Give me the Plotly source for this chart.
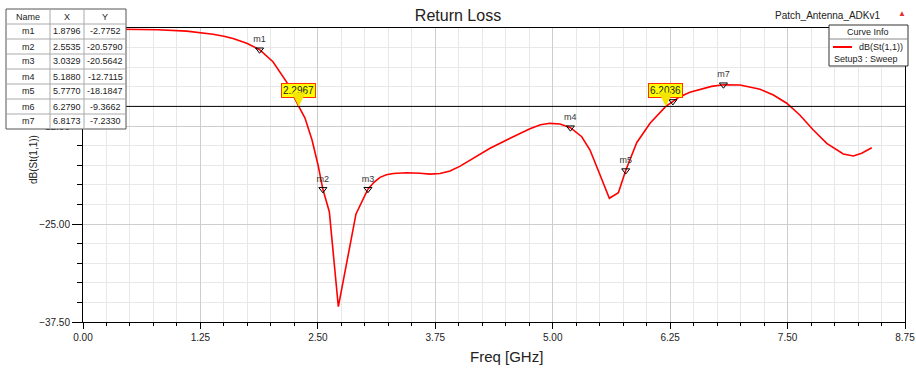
import plotly.graph_objects as go

# ---------------- data ----------------
freq = [0.0, 0.465, 0.80, 1.104, 1.25, 1.384, 1.50, 1.597, 1.743, 1.8796, 2.022, 2.168, 2.2967,
        2.363, 2.438, 2.502, 2.5535, 2.622, 2.718, 2.906, 3.0329, 3.10, 3.162, 3.23, 3.303,
        3.446, 3.587, 3.694, 3.80, 3.907, 4.01, 4.12, 4.333, 4.546, 4.758, 4.87, 4.971, 5.078,
        5.188, 5.309, 5.397, 5.504, 5.603, 5.699, 5.777, 5.894, 6.036, 6.2036,
        6.279, 6.355, 6.46, 6.568, 6.69, 6.8173, 6.994, 7.207, 7.349, 7.491, 7.63, 7.774,
        7.917, 8.093, 8.2, 8.289, 8.396]
s11 = [-0.10, -0.13, -0.22, -0.40, -0.58, -0.80, -1.05, -1.35, -1.95, -2.7752, -4.3, -6.9, -10.0,
       -11.48, -14.29, -17.47, -20.579, -23.43, -35.55, -23.72, -20.5642, -19.65, -19.05, -18.72, -18.55,
       -18.46, -18.53, -18.64, -18.55, -18.24, -17.65, -16.84, -15.34, -14.07, -12.85, -12.35, -12.16, -12.24,
       -12.7115, -13.87, -15.56, -18.75, -21.72, -21.01, -18.1847, -14.63, -12.16, -10.0,
       -9.3662, -8.76, -8.2, -7.82, -7.45, -7.233, -7.27, -7.82, -8.55, -9.6, -11.1, -13.01,
       -14.71, -16.07, -16.33, -15.98, -15.27]

marker_names = ["m1", "m2", "m3", "m4", "m5", "m6", "m7"]
marker_x = [1.8796, 2.5535, 3.0329, 5.1880, 5.7770, 6.2790, 6.8173]
marker_y = [-2.7752, -20.5790, -20.5642, -12.7115, -18.1847, -9.3662, -7.2330]

threshold = -10.0
crossing_x = [2.2967, 6.2036]

x_ticks = [0.0, 1.25, 2.5, 3.75, 5.0, 6.25, 7.5, 8.75]
y_ticks = [-37.5, -25.0, -12.5, 0.0]

FONT = "Arial, 'Liberation Sans', sans-serif"

# pixel -> paper helpers (layout only)
L, R, T, B = 83, 905, 28, 322
def pxx(p):
    return (p - L) / (R - L)
def pxy(p):
    return (B - p) / (B - T)

def note(px, py, text, size=9, xanchor="center", angle=0, color="#222"):
    fig.add_annotation(x=pxx(px), y=pxy(py), xref="paper", yref="paper",
                       text=text, showarrow=False, xanchor=xanchor, yanchor="middle",
                       textangle=angle,
                       font=dict(family=FONT, size=size, color=color))

fig = go.Figure()

fig.add_trace(go.Scatter(x=freq, y=s11, mode="lines",
                         line=dict(color="#ff0000", width=1.6),
                         showlegend=False, hoverinfo="skip"))

fig.add_trace(go.Scatter(x=marker_x, y=marker_y, mode="markers+text",
                         text=marker_names, textposition="top center",
                         textfont=dict(family=FONT, size=9, color="#333"),
                         marker=dict(symbol="triangle-down-open", size=7,
                                     color="black", line=dict(width=1, color="black")),
                         showlegend=False, hoverinfo="skip"))

# -10 dB line
fig.add_shape(type="line", xref="paper", yref="y", x0=0, x1=1,
              y0=threshold, y1=threshold, line=dict(color="black", width=1))

# crossing markers
for cx in crossing_x:
    fig.add_annotation(x=cx, y=threshold, xref="x", yref="y",
                       text=f"{cx:.4f}", showarrow=True, ax=0, ay=-16,
                       arrowhead=2, arrowsize=2.8, arrowwidth=1,
                       arrowcolor="#f5e600", standoff=0,
                       bgcolor="#ffff00", bordercolor="#ff3300", borderwidth=1,
                       borderpad=1,
                       font=dict(family=FONT, size=10, color="#222"))

# ---------------- marker table ----------------
col_edges = [6, 50, 84, 126]
row_top, row_h = 9, 15
headers = ["Name", "X", "Y"]
rows = [headers] + [[n, f"{x:.4f}", f"{y:.4f}"] for n, x, y in zip(marker_names, marker_x, marker_y)]
n_rows = len(rows)
tb_bottom = row_top + row_h * n_rows
fig.add_shape(type="rect", xref="paper", yref="paper",
              x0=pxx(col_edges[0]), x1=pxx(col_edges[-1]),
              y0=pxy(tb_bottom), y1=pxy(row_top),
              fillcolor="white", line=dict(color="#555", width=1), layer="above")
for i in range(1, n_rows):
    yy = row_top + i * row_h
    fig.add_shape(type="line", xref="paper", yref="paper",
                  x0=pxx(col_edges[0]), x1=pxx(col_edges[-1]),
                  y0=pxy(yy), y1=pxy(yy), line=dict(color="#aaa", width=1), layer="above")
for c in col_edges[1:-1]:
    fig.add_shape(type="line", xref="paper", yref="paper",
                  x0=pxx(c), x1=pxx(c), y0=pxy(tb_bottom), y1=pxy(row_top),
                  line=dict(color="#aaa", width=1), layer="above")
for i, row in enumerate(rows):
    yc = row_top + i * row_h + row_h / 2
    for j, txt in enumerate(row):
        xc = (col_edges[j] + col_edges[j + 1]) / 2
        note(xc, yc, txt, size=9)

# ---------------- curve info box ----------------
lb_l, lb_r, lb_t, lb_b, lb_sep = 829, 908, 25, 66, 39
fig.add_shape(type="rect", xref="paper", yref="paper",
              x0=pxx(lb_l), x1=pxx(lb_r), y0=pxy(lb_b), y1=pxy(lb_t),
              fillcolor="white", line=dict(color="#333", width=1), layer="above")
fig.add_shape(type="line", xref="paper", yref="paper",
              x0=pxx(lb_l), x1=pxx(lb_r), y0=pxy(lb_sep), y1=pxy(lb_sep),
              line=dict(color="#888", width=1), layer="above")
fig.add_shape(type="line", xref="paper", yref="paper",
              x0=pxx(833), x1=pxx(852), y0=pxy(47), y1=pxy(47),
              line=dict(color="#ff0000", width=2), layer="above")
note(868, 32, "Curve Info", size=9)
note(905, 47, "dB(St(1,1))", size=9, xanchor="right")
note(832, 59, "Setup3 : Sweep", size=9, xanchor="left")

# ---------------- header / axis texts ----------------
note(883, 15, "Patch_Antenna_ADKv1", size=10, xanchor="right")
note(902, 14, "▲", size=8, color="#e03030")
note(33, 160, "dB(St(1,1))", size=10, angle=-90)
note(506, 356, "Freq [GHz]", size=15)

fig.update_layout(
    width=916, height=368,
    margin=dict(l=L, r=916 - R, t=T, b=368 - B, autoexpand=False),
    paper_bgcolor="white", plot_bgcolor="white",
    title=dict(text="Return Loss", x=0.5, xanchor="center",
               y=1 - 15 / 368, yanchor="middle",
               font=dict(family=FONT, size=16, color="#222")),
    xaxis=dict(range=[0, 8.75], tickvals=x_ticks, tickformat=".2f",
               showgrid=True, gridcolor="#cdcdcd", gridwidth=1,
               ticks="outside", ticklen=6, tickcolor="black",
               showline=True, linecolor="black", linewidth=1, mirror=True,
               zeroline=False, automargin=False,
               minor=dict(dtick=0.25, tick0=0, showgrid=True, gridcolor="#e8e8e8",
                          ticks="outside", ticklen=3, tickcolor="black"),
               tickfont=dict(family=FONT, size=10, color="#222")),
    yaxis=dict(range=[-37.5, 0], tickvals=y_ticks, tickformat=".2f",
               showgrid=True, gridcolor="#cdcdcd", gridwidth=1,
               ticks="outside", ticklen=10, tickcolor="black",
               showline=True, linecolor="black", linewidth=1, mirror=True,
               zeroline=False, automargin=False,
               minor=dict(dtick=2.5, tick0=0, showgrid=True, gridcolor="#e8e8e8",
                          ticks="outside", ticklen=5, tickcolor="black"),
               tickfont=dict(family=FONT, size=10, color="#222")),
)

fig.write_html("out.html")
